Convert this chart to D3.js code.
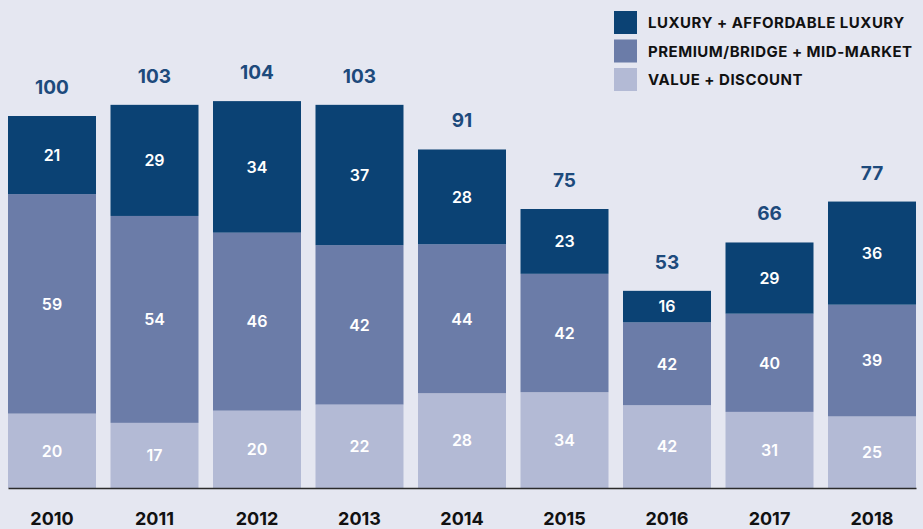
<!DOCTYPE html>
<html lang="en">
    <head>
        <meta charset="utf-8">
        <title>Stacked index chart</title>
        <script type="text/javascript" src="https://cdn.jsdelivr.net/npm/d3@7"></script>
        <style>
            body { margin: 0; background: #e5e7f1; }
            svg { display: block; font-family: Inter, "Open Sans", sans-serif; }
        </style>
    </head>
    <body>
        <script type="text/javascript">
            // data
            var years = ["2010", "2011", "2012", "2013", "2014", "2015", "2016", "2017", "2018"];
            var totals = [100, 103, 104, 103, 91, 75, 53, 66, 77];
            var luxury = [21, 29, 34, 37, 28, 23, 16, 29, 36];
            var premium = [59, 54, 46, 42, 44, 42, 42, 40, 39];
            var value = [20, 17, 20, 22, 28, 34, 42, 31, 25];

            var seriesNames = ["LUXURY + AFFORDABLE LUXURY", "PREMIUM/BRIDGE + MID-MARKET", "VALUE + DISCOUNT"];
            var colors = { value: "#b3bad5", premium: "#6b7ca8", luxury: "#0b4274" };

            var w = 923, h = 529;
            var baseY = 488;

            var svg = d3.select("body").append("svg").attr("width", w).attr("height", h);

            // rows: each share scaled to the bar's total
            var rows = years.map(function(y, i) {
                var sum = luxury[i] + premium[i] + value[i];
                return {
                    year: y, total: totals[i],
                    value: totals[i] * value[i] / sum,
                    premium: totals[i] * premium[i] / sum,
                    luxury: totals[i] * luxury[i] / sum,
                    raw: { value: value[i], premium: premium[i], luxury: luxury[i] }
                };
            });

            var xScale = d3.scaleBand()
                .domain(years)
                .range([8, 916])
                .paddingInner(0.1415)
                .paddingOuter(0);

            var yScale = d3.scaleLinear()
                .domain([0, 100])
                .range([baseY, 116]);

            var stack = d3.stack().keys(["value", "premium", "luxury"]);
            var layers = stack(rows);

            var groups = svg.selectAll("g.layer")
                .data(layers)
                .enter()
                .append("g")
                .attr("class", "layer")
                .attr("fill", function(d) { return colors[d.key]; });

            groups.selectAll("rect")
                .data(function(d) { return d; })
                .enter()
                .append("rect")
                .attr("x", function(d) { return xScale(d.data.year); })
                .attr("y", function(d) { return yScale(d[1]); })
                .attr("width", xScale.bandwidth())
                .attr("height", function(d) { return yScale(d[0]) - yScale(d[1]); });

            // segment labels
            layers.forEach(function(layer) {
                svg.append("g").selectAll("text")
                    .data(layer)
                    .enter()
                    .append("text")
                    .attr("x", function(d) { return xScale(d.data.year) + xScale.bandwidth() / 2; })
                    .attr("y", function(d) { return (yScale(d[0]) + yScale(d[1])) / 2; })
                    .attr("dy", "0.36em")
                    .attr("text-anchor", "middle")
                    .attr("font-size", "16px")
                    .attr("font-weight", 600)
                    .attr("fill", "#ffffff")
                    .text(function(d) { return d.data.raw[layer.key]; });
            });

            // totals above the bars
            svg.append("g").selectAll("text")
                .data(rows)
                .enter()
                .append("text")
                .attr("x", function(d) { return xScale(d.year) + xScale.bandwidth() / 2; })
                .attr("y", function(d) { return yScale(d.total) - 22; })
                .attr("text-anchor", "middle")
                .attr("font-size", "19px")
                .attr("font-weight", 700)
                .attr("fill", "#1d4a7c")
                .text(function(d) { return d.total; });

            // baseline + year axis
            var xAxis = d3.axisBottom(xScale).tickSize(0).tickPadding(24);
            var axisG = svg.append("g")
                .attr("transform", "translate(0," + baseY + ")")
                .call(xAxis);
            axisG.select(".domain").attr("stroke", "#2b2b2b").attr("stroke-width", 1.5);
            axisG.selectAll("text")
                .attr("font-family", "Inter, 'Open Sans', sans-serif")
                .attr("font-size", "18px")
                .attr("font-weight", 700)
                .attr("fill", "#111111");

            // legend
            var legendColors = [colors.luxury, colors.premium, colors.value];
            var legend = svg.append("g").selectAll("g")
                .data(seriesNames)
                .enter()
                .append("g")
                .attr("transform", function(d, i) { return "translate(614," + (11 + i * 28.5) + ")"; });
            legend.append("rect")
                .attr("width", 23).attr("height", 23)
                .attr("fill", function(d, i) { return legendColors[i]; });
            legend.append("text")
                .attr("x", 34).attr("y", 17)
                .attr("font-size", "15px")
                .attr("font-weight", 700)
                .attr("letter-spacing", "0.5px")
                .attr("fill", "#111111")
                .text(function(d) { return d; });
        </script>
    </body>
</html>
